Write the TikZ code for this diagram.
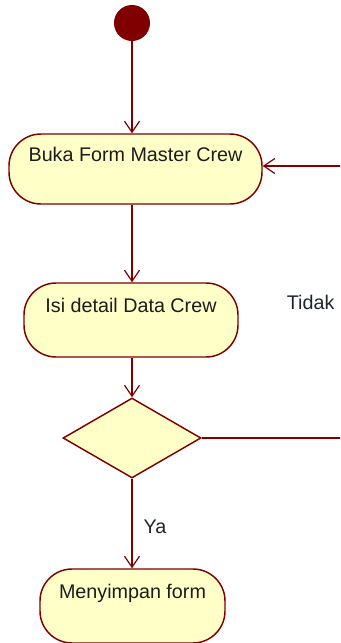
\documentclass[tikz,border=0pt]{standalone}
\usepackage{fontspec}
\setmainfont{Liberation Sans}
\usetikzlibrary{arrows.meta,shapes.geometric}

\definecolor{rosered}{HTML}{800000}
\definecolor{rosefill}{HTML}{FFFFC8}
\definecolor{roseink}{HTML}{1C1C1C}
\definecolor{guardink}{HTML}{1E2433}

\tikzset{
  activity/.style={draw=rosered, fill=rosefill, line width=1.1pt,
    rounded corners=32*0.75pt, rectangle, inner sep=0pt},
  acttext/.style={anchor=base, text=roseink, inner sep=0pt},
  decision/.style={draw=rosered, fill=rosefill, line width=1.1pt,
    diamond, inner sep=0pt, minimum width=138*0.75pt, minimum height=80*0.75pt},
  initial/.style={circle, fill=rosered, inner sep=0pt, minimum size=36*0.75pt},
  flow/.style={draw=rosered, line width=0.9pt,
    -{Straight Barb[length=11*0.75pt, width=15*0.75pt]}},
  guard/.style={text=guardink, inner sep=0pt},
}

\begin{document}
\begin{tikzpicture}[x=0.75pt, y=-0.75pt, font=\fontsize{14.8pt}{18pt}\selectfont]
\useasboundingbox (0,0) rectangle (340,643);
\clip (0,0) rectangle (340,643);

% start state
\node[initial] (start) at (132,23) {};

% activities
\node[activity, minimum width=253*0.75pt, minimum height=70*0.75pt,
  label={[acttext, yshift=-28*0.75pt]north:Buka Form Master Crew}]
  (n1) at (135.5,169) {};
\node[activity, minimum width=214*0.75pt, minimum height=74*0.75pt,
  label={[acttext, yshift=-30*0.75pt]north:Isi detail Data Crew}]
  (n2) at (131,320) {};
\node[decision] (dec) at (132,438) {};
\node[activity, minimum width=185*0.75pt, minimum height=74*0.75pt,
  label={[acttext, yshift=-30*0.75pt]north:Menyimpan form}]
  (n3) at (132.5,606) {};

% loop back (runs just past the right edge)
\coordinate (loopA) at (346,438);
\coordinate (loopB) at (346,166);

% transitions
\draw[flow] (start) -- (start |- n1.north);
\draw[flow] (n1.south -| start) -- (start |- n2.north);
\draw[flow] (n2.south -| start) -- (dec.north);
\draw[flow] (dec.south) -- node[guard, pos=0.54, anchor=west, xshift=11*0.75pt] {Ya} (n3.north -| dec.south);
\draw[flow] (dec.east) -- (loopA) -- node[guard, anchor=east, xshift=-11*0.75pt] {Tidak} (loopB) -- (loopB -| n1.east);
\end{tikzpicture}
\end{document}
